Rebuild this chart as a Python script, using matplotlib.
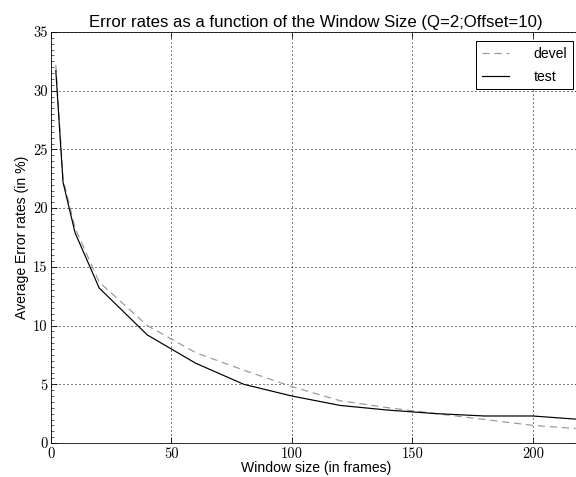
import matplotlib
matplotlib.use("Agg")
import matplotlib.pyplot as plt
from matplotlib.ticker import MultipleLocator

window = [2, 5, 10, 20, 40, 60, 80, 100, 120, 140, 160, 180, 200, 220]
devel = [32.2, 22.5, 18.3, 13.7, 10.0, 7.7, 6.2, 4.8, 3.6, 3.0, 2.5, 2.0, 1.5, 1.2]
test = [31.7, 22.2, 17.9, 13.2, 9.2, 6.8, 5.0, 4.0, 3.2, 2.8, 2.5, 2.3, 2.3, 2.0]

W, H = 576, 477
fig = plt.figure(figsize=(W / 72, H / 72), dpi=72)
ax = fig.add_axes([51 / W, (H - 443) / H, 530 / W, 411 / H])

ax.plot(window, devel, linestyle=(0, (6, 4)), color="#999999", lw=1.2, label="devel")
ax.plot(window, test, color="black", lw=1.2, label="test")

ax.set_xlim(0, 220)
ax.set_ylim(0, 35)
ax.xaxis.set_major_locator(MultipleLocator(50))
ax.yaxis.set_major_locator(MultipleLocator(5))
ax.yaxis.set_minor_locator(MultipleLocator(0.5))
ax.tick_params(direction="in", which="both", top=True, right=True)
ax.tick_params(which="major", length=6)
ax.tick_params(which="minor", length=3)
ax.tick_params(axis="x", pad=4)
for lab in ax.get_xticklabels() + ax.get_yticklabels():
    lab.set_family(["cmr10", "DejaVu Serif"])
    lab.set_fontsize(14.5)
ax.grid(True, linestyle=(0, (1, 3)), color="black", lw=1)

sans = "Liberation Sans"
ax.set_title("Error rates as a function of the Window Size (Q=2;Offset=10)",
             fontsize=16.7, family=sans, pad=5)
ax.set_xlabel("Window size (in frames)", fontsize=14, family=sans, labelpad=0)
ax.set_ylabel("Average Error rates (in %)", fontsize=14, family=sans, labelpad=4)

leg = ax.legend(loc="upper right", bbox_to_anchor=(0.985, 0.978), borderaxespad=0,
                fancybox=False, framealpha=1, edgecolor="black",
                prop={"family": sans, "size": 14}, handlelength=1.9,
                handletextpad=1.8, labelspacing=0.65, borderpad=0.4)
leg.get_frame().set_linewidth(1.0)

fig.savefig("out.png", dpi=72)
